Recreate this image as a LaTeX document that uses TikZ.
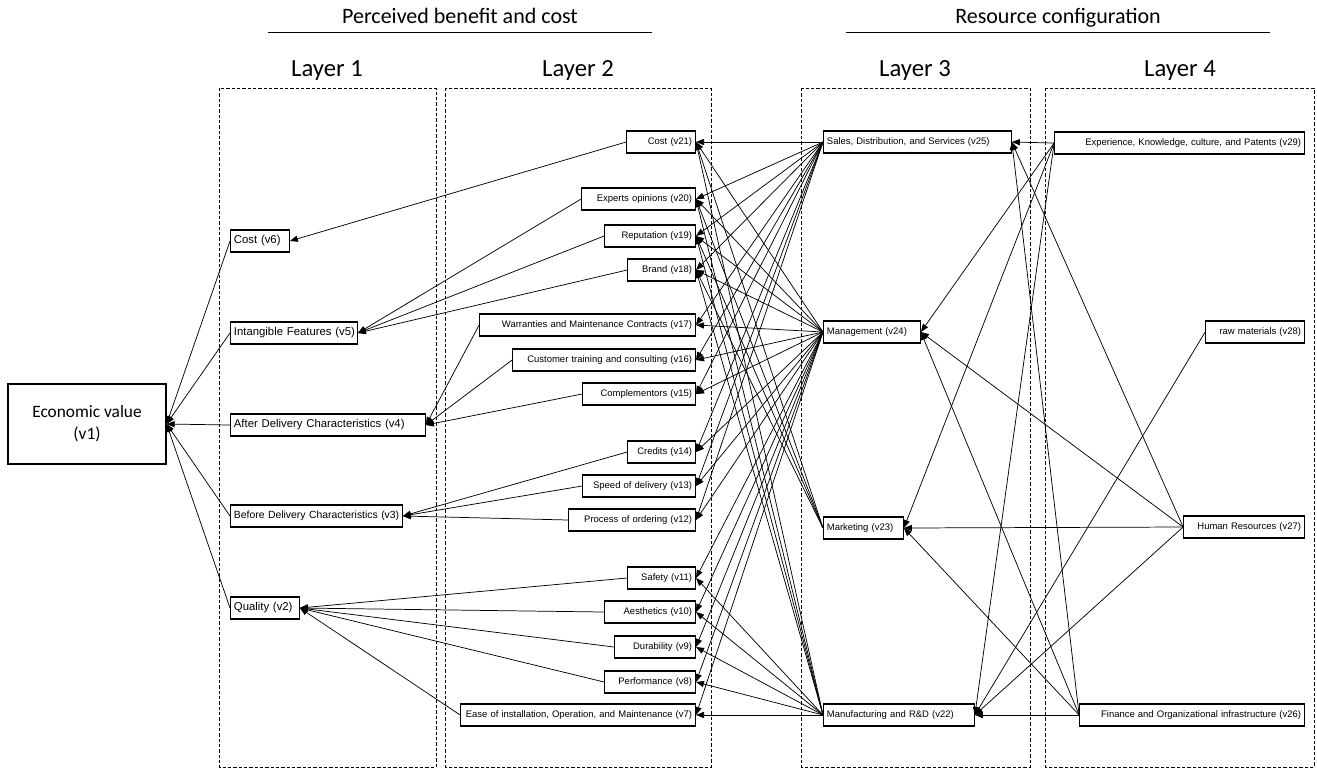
\documentclass[tikz,border=0pt]{standalone}
\usepackage{fontspec}
\setmainfont{Liberation Sans}
\newfontfamily\calfont{Carlito}
\usetikzlibrary{arrows.meta}
\begin{document}
\begin{tikzpicture}[x=0.75pt,y=-0.75pt,
  box/.style={draw, line width=0.9pt, font=\fontsize{7.1}{8}\selectfont, minimum height=16.5pt, inner xsep=2.5pt, inner ysep=0pt,
    execute at begin node={\leavevmode\hbox\bgroup}, execute at end node={\egroup}},
  lbox/.style={box, text width=#1, align=left, anchor=west},
  rbox/.style={box, text width=#1, align=right, anchor=east},
  onebox/.style={lbox=#1, font=\fontsize{8.5}{9}\selectfont},
  frame/.style={draw, dash pattern=on 2.5pt off 1.5pt, line width=0.7pt},
  arr/.style={-{Triangle[length=6pt,width=4.6pt]}, line width=0.55pt},
  head/.style={font=\calfont\fontsize{18.5}{20}\selectfont, anchor=base},
  toph/.style={font=\calfont\fontsize{16.5}{18}\selectfont, anchor=base}]
\useasboundingbox (0,0) rectangle (1317,769);
% frames
\draw[frame] (219,88) rectangle (436,767);
\draw[frame] (445,88) rectangle (711,767);
\draw[frame] (801,88) rectangle (1030,767);
\draw[frame] (1045,88) rectangle (1314,767);
% headings
\node[toph] (h1) at (460,23) {Perceived benefit and cost};
\node[toph] (h2) at (1058,23) {Resource configuration};
\draw[line width=0.6pt] (268,32) -- (652,32);
\draw[line width=0.6pt] (846,32) -- (1270,32);
\node[head] (l1) at (327,76) {Layer 1};
\node[head] (l2) at (578,76) {Layer 2};
\node[head] (l3) at (915,76) {Layer 3};
\node[head] (l4) at (1180,76) {Layer 4};
% v1
\node[draw, line width=0.9pt, minimum width=118.5pt, minimum height=60pt, align=center,
  font=\calfont\fontsize{13}{16.5}\selectfont] (v1) at (87,424) {Economic value\\(v1)};
% layer 1
\node[onebox=39pt] (v6) at (230,241) {Cost (v6)};
\node[onebox=90pt] (v5) at (230,333) {Intangible Features (v5)};
\node[onebox=141pt] (v4) at (230,425) {After Delivery Characteristics (v4)};
\node[onebox=123.75pt, font=\fontsize{7.8}{9}\selectfont] (v3) at (230,516) {Before Delivery Characteristics (v3)};
\node[onebox=46.5pt] (v2) at (230,608) {Quality (v2)};
% layer 2
\node[rbox=46.5pt] (v21) at (696,142) {Cost (v21)};
\node[rbox=80.25pt] (v20) at (696,199) {Experts opinions (v20)};
\node[rbox=63pt] (v19) at (696,236) {Reputation (v19)};
\node[rbox=45.75pt] (v18) at (696,270) {Brand (v18)};
\node[rbox=156.75pt] (v17) at (696,325) {Warranties and Maintenance Contracts (v17)};
\node[rbox=132pt] (v16) at (696,360) {Customer training and consulting (v16)};
\node[rbox=79.5pt] (v15) at (696,394) {Complementors (v15)};
\node[rbox=45.75pt] (v14) at (696,452) {Credits (v14)};
\node[rbox=79.5pt] (v13) at (696,486) {Speed of delivery (v13)};
\node[rbox=90pt] (v12) at (696,520) {Process of ordering (v12)};
\node[rbox=45.75pt] (v11) at (696,578) {Safety (v11)};
\node[rbox=63pt] (v10) at (696,612) {Aesthetics (v10)};
\node[rbox=55.5pt] (v9) at (696,647) {Durability (v9)};
\node[rbox=63pt] (v8) at (696,682) {Performance (v8)};
\node[rbox=171pt] (v7) at (696,715) {Ease of installation, Operation, and Maintenance (v7)};
% layer 3
\node[lbox=135.75pt] (v25) at (823,142) {Sales, Distribution, and Services (v25)};
\node[lbox=67.5pt] (v24) at (823,332) {Management (v24)};
\node[lbox=54.75pt] (v23) at (823,528) {Marketing (v23)};
\node[lbox=108pt] (v22) at (823,715) {Manufacturing and R\&D (v22)};
% layer 4
\node[rbox=182.25pt] (v29) at (1305,143) {Experience, Knowledge, culture, and Patents (v29)};
\node[rbox=69pt] (v28) at (1305,332) {raw materials (v28)};
\node[rbox=85.5pt] (v27) at (1305,527) {Human Resources (v27)};
\node[rbox=163.5pt] (v26) at (1305,715) {Finance and Organizational infrastructure (v26)};
% layer 1 -> v1
\foreach \s in {v6,v5,v4,v3,v2} \draw[arr] (\s.west) -- (v1.east);
% layer 2 -> layer 1
\draw[arr] (v21.west) -- (v6.east);
\foreach \s in {v20,v19,v18} \draw[arr] (\s.west) -- (v5.east);
\foreach \s in {v17,v16,v15} \draw[arr] (\s.west) -- (v4.east);
\foreach \s in {v14,v13,v12} \draw[arr] (\s.west) -- (v3.east);
\foreach \s in {v11,v10,v9,v8,v7} \draw[arr] (\s.west) -- (v2.east);
% layer 3 -> layer 2
\foreach \t in {v21,v20,v19,v18,v17,v16,v15,v14,v13,v12} \draw[arr] (v25.west) -- (\t.east);
\foreach \t in {v21,v20,v19,v18,v17,v16,v15,v14,v13,v12,v11,v10,v9,v8,v7} \draw[arr] (v24.west) -- (\t.east);
\foreach \t in {v21,v20,v19,v18} \draw[arr] (v23.west) -- (\t.east);
\foreach \t in {v21,v20,v19,v18,v11,v10,v9,v8,v7} \draw[arr] (v22.west) -- (\t.east);
% layer 4 -> layer 3
\foreach \t in {v25,v24,v23,v22} \draw[arr] (v29.west) -- (\t.east);
\draw[arr] (v28.west) -- (v22.east);
\foreach \t in {v25,v24,v23,v22} \draw[arr] (v27.west) -- (\t.east);
\foreach \t in {v25,v24,v23,v22} \draw[arr] (v26.west) -- (\t.east);
\end{tikzpicture}
\end{document}
